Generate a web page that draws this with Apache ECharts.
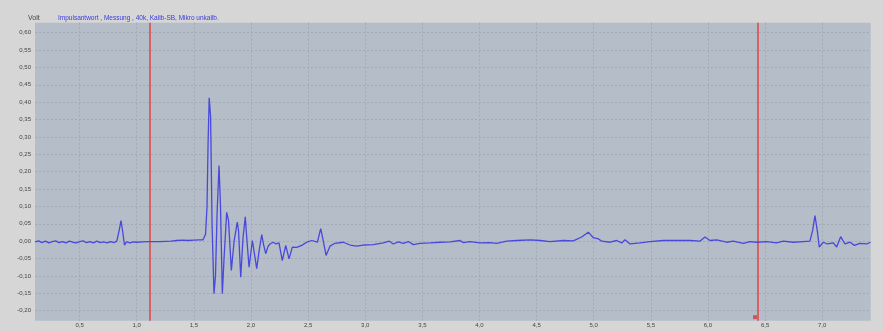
<!DOCTYPE html>
<html><head><meta charset="utf-8">
<script src="https://cdn.jsdelivr.net/npm/echarts@6/dist/echarts.min.js"></script>
<style>html,body{margin:0;padding:0;background:#d6d6d6}#c{width:883px;height:331px}</style>
</head><body><div id="c"></div>
<script>
// Time axis in ms, values in Volt
const timeMs = [
0.11,0.14,0.17,0.20,0.23,0.26,0.29,0.32,0.35,0.38,0.41,0.44,0.47,0.50,0.53,0.56,0.59,0.62,0.65,0.68,0.71,0.74,0.77,0.80,
0.825,0.845,0.862,0.878,0.892,0.91,0.94,0.97,1.00,1.05,1.10,1.20,1.30,1.35,1.40,1.45,1.50,1.55,1.58,
1.602,1.615,1.624,1.634,1.646,1.659,1.676,1.689,1.703,1.72,1.733,1.749,1.764,1.787,1.803,1.828,1.852,1.88,1.891,1.91,
1.93,1.95,1.965,1.983,2.012,2.027,2.05,2.07,2.094,2.11,2.129,2.149,2.166,2.195,2.219,2.245,2.274,2.304,2.333,2.362,
2.40,2.444,2.488,2.532,2.581,2.61,2.63,2.657,2.692,2.735,2.808,2.867,2.925,2.983,3.071,3.158,3.211,3.246,3.29,3.333,
3.377,3.421,3.479,3.567,3.655,3.742,3.83,3.859,3.917,4.005,4.092,4.151,4.238,4.326,4.442,4.53,4.617,4.734,4.821,4.895,
4.953,4.997,5.04,5.07,5.143,5.201,5.245,5.274,5.318,5.405,5.493,5.609,5.726,5.843,5.93,5.974,6.018,6.077,6.164,6.222,
6.31,6.368,6.426,6.514,6.602,6.66,6.747,6.835,6.893,6.917,6.937,6.957,6.975,7.01,7.045,7.098,7.127,7.162,7.2,7.244,
7.283,7.33,7.39,7.425
];
const volt = [
-0.002,0.001,-0.004,0.000,-0.005,-0.001,0.001,-0.004,-0.001,-0.005,0.000,-0.003,-0.005,-0.001,0.001,-0.004,-0.001,-0.005,0.000,-0.004,-0.002,-0.005,-0.001,-0.004,
0.000,0.030,0.059,0.025,-0.011,-0.002,-0.005,-0.002,-0.003,-0.002,-0.001,-0.001,0.000,0.002,0.003,0.002,0.003,0.004,0.004,
0.020,0.100,0.280,0.413,0.360,0.050,-0.151,-0.100,0.080,0.218,0.100,-0.151,-0.050,0.083,0.060,-0.084,0.000,0.055,0.030,-0.104,
0.010,0.070,0.000,-0.075,0.002,-0.030,-0.079,-0.030,0.019,-0.010,-0.036,-0.015,-0.008,-0.003,-0.008,-0.005,-0.056,-0.012,-0.051,-0.017,
-0.018,-0.012,-0.003,0.002,-0.003,0.036,0.005,-0.041,-0.014,-0.006,-0.003,-0.011,-0.014,-0.011,-0.010,-0.005,0.000,-0.008,-0.002,-0.006,
-0.001,-0.010,-0.006,-0.005,-0.003,-0.002,0.002,-0.004,-0.001,-0.005,-0.004,-0.006,0.000,0.002,0.004,0.002,-0.001,0.002,0.001,0.012,
0.026,0.010,0.007,0.000,-0.003,0.002,-0.005,0.004,-0.008,-0.005,-0.001,0.002,0.002,0.002,0.000,0.012,0.002,0.004,-0.003,0.000,
-0.006,-0.001,-0.003,-0.001,-0.005,0.000,-0.003,-0.001,0.000,0.031,0.074,0.031,-0.017,-0.003,-0.008,-0.005,-0.017,0.013,-0.008,-0.003,
-0.012,-0.006,-0.008,-0.003
];
const cursorTimes = [1.110, 6.441];
const cursorMarker = [[6.412, -0.2187]];
const xTicks = { min: 0.5, max: 7.0, step: 0.5 };
const yTicks = { min: -0.2, max: 0.6, step: 0.05 };
const titleUnit = 'Volt';
const titleText = 'Impulsantwort , Messung , 40k, Kalib-SB, Mikro unkalib.';

const series = timeMs.map((t, i) => [t, volt[i]]);
const comma = v => v.toFixed(2).replace('.', ',');
const comma1 = v => v.toFixed(1).replace('.', ',');

const chart = echarts.init(document.getElementById('c'), null, {renderer: 'canvas'});
const gridLine = {show: true, lineStyle: {color: '#a2abb5', type: [2, 2], width: 1}};
chart.setOption({
  backgroundColor: '#d6d6d6',
  animation: false,
  title: [
    {text: titleUnit, left: 23, top: 10, textStyle: {fontSize: 7, fontWeight: 'normal', color: '#444', fontFamily: 'Liberation Sans'}},
    {text: titleText, left: 53, top: 10, textStyle: {fontSize: 6.5, fontWeight: 'normal', color: '#3a3ae0', fontFamily: 'Liberation Sans'}}
  ],
  grid: [
    {left: 35, right: 12.3, top: 22.7, bottom: 10.3, show: true, backgroundColor: '#b4bdc8', borderWidth: 0},
    {left: 79.6, right: 60.8, top: 22.7, bottom: 10.3},
    {left: 35, right: 12.3, top: 32.7, bottom: 20.3}
  ],
  xAxis: [
    {gridIndex: 0, type: 'value', min: 0.109, max: 7.425, show: false},
    {gridIndex: 1, type: 'value', min: xTicks.min, max: xTicks.max, interval: xTicks.step,
     axisLine: {show: false}, axisTick: {show: false}, splitLine: gridLine,
     axisLabel: {fontSize: 6, color: '#444', margin: 2, formatter: comma1, fontFamily: 'Liberation Sans'}},
    {gridIndex: 2, type: 'value', min: 0, max: 1, show: false}
  ],
  yAxis: [
    {gridIndex: 0, type: 'value', min: -0.2288, max: 0.6288, show: false},
    {gridIndex: 1, type: 'value', min: 0, max: 1, show: false},
    {gridIndex: 2, type: 'value', min: yTicks.min, max: yTicks.max, interval: yTicks.step,
     axisLine: {show: false}, axisTick: {show: false}, splitLine: gridLine,
     axisLabel: {fontSize: 6, color: '#444', margin: 4, formatter: comma, fontFamily: 'Liberation Sans'}}
  ],
  series: [
    {type: 'line', xAxisIndex: 0, yAxisIndex: 0, data: series, showSymbol: false, z: 5,
     lineStyle: {color: '#4848dc', width: 1.3},
     markLine: {silent: true, symbol: 'none', label: {show: false},
       lineStyle: {color: '#e04444', width: 1.5, type: 'solid'},
       data: cursorTimes.map(t => ({xAxis: t}))}},
    {type: 'scatter', xAxisIndex: 0, yAxisIndex: 0, data: cursorMarker, symbol: 'rect', symbolSize: 4, z: 6,
     itemStyle: {color: '#d93a3a'}}
  ]
});
</script></body></html>
